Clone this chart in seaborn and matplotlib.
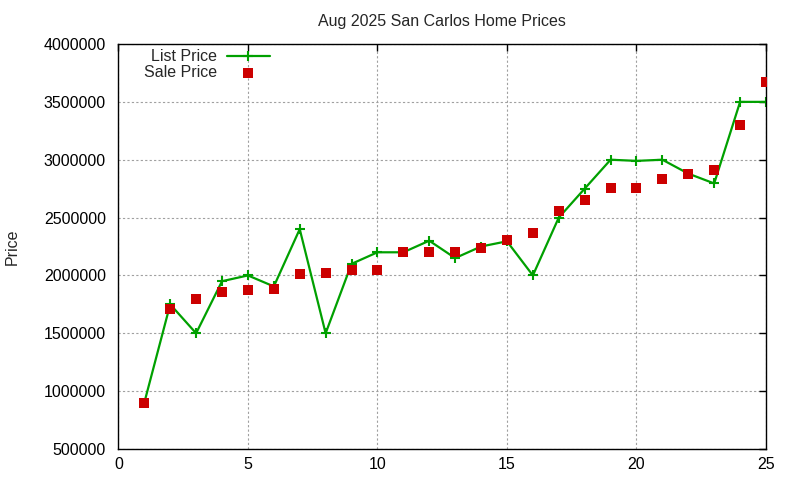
import pandas as pd
import numpy as np
import matplotlib.pyplot as plt
import seaborn as sns

# Data
home = list(range(1, 26))
list_price = [900000, 1750000, 1500000, 1950000, 2000000, 1905000, 2400000, 1500000,
              2100000, 2200000, 2200000, 2300000, 2150000, 2250000, 2295000, 2000000,
              2500000, 2750000, 3000000, 2990000, 3000000, 2880000, 2795000, 3500000,
              3500000]
sale_price = [900000, 1710000, 1800000, 1855000, 1870000, 1885000, 2010000, 2020000,
              2045000, 2050000, 2200000, 2200000, 2200000, 2235000, 2310000, 2365000,
              2555000, 2650000, 2755000, 2755000, 2835000, 2875000, 2910000, 3300000,
              3675000]
x_ticks = [0, 5, 10, 15, 20, 25]
y_ticks = [500000, 1000000, 1500000, 2000000, 2500000, 3000000, 3500000, 4000000]

df = pd.DataFrame({'home': home, 'List Price': list_price, 'Sale Price': sale_price})

sns.set_style('white')
plt.rcParams['font.family'] = ['Liberation Sans', 'DejaVu Sans']

fig = plt.figure(figsize=(8, 4.8), dpi=100)
ax = fig.add_axes([0.148, 0.0646, 0.8095, 0.8437])

sns.lineplot(data=df, x='home', y='List Price', ax=ax, color='#00a000', linewidth=1.6,
             marker='+', markersize=7, markeredgewidth=1.5, markeredgecolor='#00a000',
             label='List Price')
sns.scatterplot(data=df, x='home', y='Sale Price', ax=ax, color='#cc0000', marker='s',
                s=50, linewidth=0, label='Sale Price', zorder=3)

ax.set_xlim(0, 25)
ax.set_ylim(500000, 4000000)
ax.set_xticks(x_ticks)
ax.set_yticks(y_ticks)
ax.set_yticklabels([str(v) for v in y_ticks])
ax.grid(True, color='#a0a0a0', linestyle=(0, (2, 2)), linewidth=0.8)
ax.tick_params(direction='in', length=5, width=1, labelsize=11.5, pad=9,
               top=True, right=True, colors='black')
ax.tick_params(axis='x', pad=6)
for s in ax.spines.values():
    s.set_color('black')
    s.set_linewidth(1)

ax.set_xlabel('')
ax.set_ylabel('Price', fontsize=11.5)
ax.yaxis.set_label_coords(-0.152, 0.5)
ax.set_title('Aug 2025 San Carlos Home Prices', fontsize=11.5, pad=13)

ax.legend(loc='upper left', bbox_to_anchor=(0.022, 1.015), frameon=False, markerfirst=False,
          fontsize=11.5, handlelength=2.7, handletextpad=0.6, labelspacing=0.05,
          borderaxespad=0.3)

plt.savefig('out.png', dpi=100)
